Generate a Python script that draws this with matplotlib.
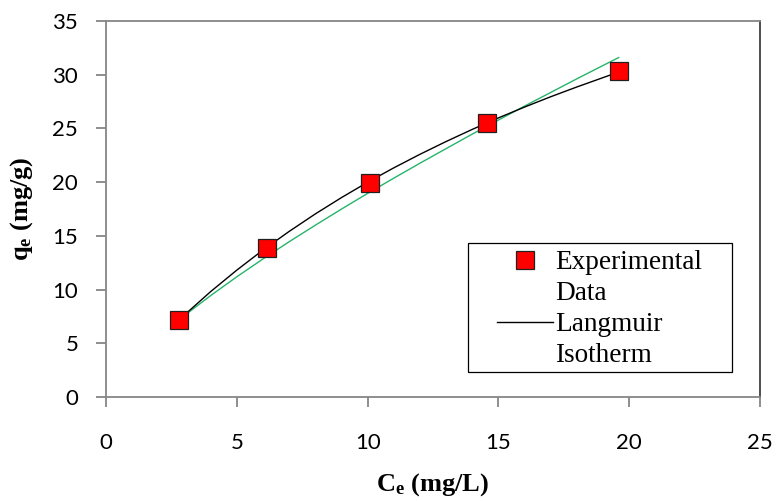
import numpy as np
import matplotlib
matplotlib.use("Agg")
import matplotlib.pyplot as plt
from matplotlib.lines import Line2D
from matplotlib.patches import Rectangle

# experimental points
ce_exp = [2.8, 6.15, 10.1, 14.55, 19.6]
qe_exp = [7.2, 13.9, 19.9, 25.5, 30.35]

# Langmuir curve (black)
ce_lang = [2.8, 3, 4, 5, 6, 7, 8, 9, 10, 11, 12, 13, 14, 15, 16, 17, 18, 19, 19.3]
qe_lang = [7.19, 7.64, 9.81, 11.81, 13.68, 15.41, 17.04, 18.56, 19.99, 21.33,
           22.59, 23.78, 24.91, 25.98, 26.99, 27.95, 28.86, 29.73, 29.99]

# second fit (green)
ce_green = [2.8, 3, 4, 5, 6, 7, 8, 9, 10, 11, 12, 13, 14, 15, 16, 17, 18, 19, 19.6]
qe_green = [7.2, 7.59, 9.44, 11.19, 12.85, 14.45, 15.99, 17.49, 18.95, 20.37,
            21.76, 23.12, 24.47, 25.78, 27.08, 28.35, 29.62, 30.86, 31.6]

xticks = [0, 5, 10, 15, 20, 25]
yticks = [0, 5, 10, 15, 20, 25, 30, 35]

plt.rcParams['mathtext.fontset'] = 'custom'
plt.rcParams['mathtext.rm'] = 'Liberation Serif:bold'
plt.rcParams['mathtext.it'] = 'Liberation Serif:bold'
plt.rcParams['mathtext.bf'] = 'Liberation Serif:bold'

W, H = 776, 501
fig = plt.figure(figsize=(W / 100, H / 100), dpi=100)
ax = fig.add_axes([106 / W, 1 - 397 / H, (760 - 106) / W, (397 - 21) / H])

ax.plot(ce_green, qe_green, color='#25B46A', lw=1.0, zorder=2)
ax.plot(ce_lang, qe_lang, color='black', lw=1.0, zorder=3)
ax.plot(ce_exp, qe_exp, ls='none', marker='s', ms=13.5, mfc='#FF0000',
        mec='#202020', mew=0.9, zorder=4)

ax.set_xlim(0, 25)
ax.set_ylim(0, 35)
ax.set_xticks(xticks)
ax.set_yticks(yticks)

gray = '#868686'
for s in ['left', 'bottom', 'top']:
    ax.spines[s].set_color(gray)
    ax.spines[s].set_linewidth(1.3)
ax.spines['right'].set_color('#404040')
ax.spines['right'].set_linewidth(1.3)

ax.tick_params(axis='x', direction='out', length=7, width=1.3, color=gray,
               pad=19, labelsize=16, top=False)
ax.tick_params(axis='y', direction='out', length=7, width=1.3, color=gray,
               pad=13, labelsize=16, right=False)
for lab in ax.get_xticklabels() + ax.get_yticklabels():
    lab.set_fontfamily('Lato')

ax.set_xlabel(r'$\mathrm{C_e}$ (mg/L)', fontsize=19, fontweight='bold',
              family='Liberation Serif')
ax.set_ylabel(r'$\mathrm{q_e}$ (mg/g)', fontsize=19, fontweight='bold',
              family='Liberation Serif')
ax.xaxis.set_label_coords(0.5, -0.197)
ax.yaxis.set_label_coords(-0.108, 0.5)

# legend box drawn separately, legend itself without frame
fig.patches.append(Rectangle((468 / W, 1 - 372 / H), (732 - 468) / W, (372 - 243) / H,
                             transform=fig.transFigure, fill=False,
                             edgecolor='black', lw=0.9, zorder=5))
empty = Line2D([], [], ls='none')
handles = [
    Line2D([], [], ls='none', marker='s', ms=13.5, mfc='#FF0000', mec='#202020', mew=0.9),
    empty,
    Line2D([], [], color='black', lw=1.0),
    empty,
]
labels = ['Experimental', 'Data', 'Langmuir', 'Isotherm']
leg = fig.legend(handles, labels, loc='upper left',
                 bbox_to_anchor=(497 / W, 1 - 250 / H),
                 frameon=False, borderpad=0, borderaxespad=0,
                 handlelength=2.05, handletextpad=0.08, labelspacing=0.22,
                 prop={'family': 'Liberation Serif', 'size': 19.6})

fig.savefig('out.png', dpi=100)
